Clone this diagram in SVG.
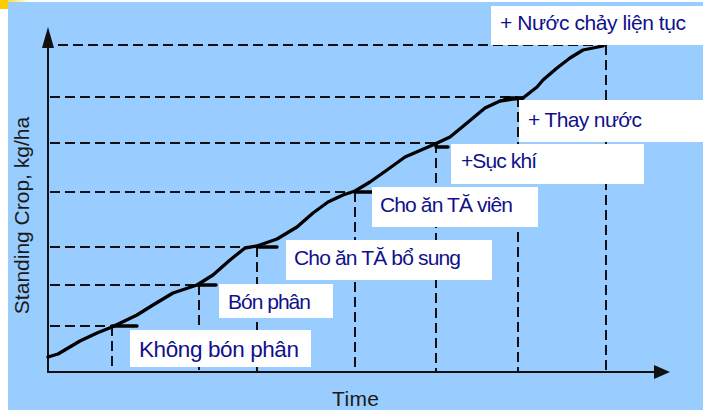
<svg xmlns="http://www.w3.org/2000/svg" width="703" height="410" viewBox="0 0 703 410">
  <defs>
    <linearGradient id="corner" x1="0" y1="0" x2="1" y2="0">
      <stop offset="0" stop-color="#FFCC00"/>
      <stop offset="1" stop-color="#FFFFFF"/>
    </linearGradient>
    <style>
      .dash { stroke: #111; stroke-width: 2; stroke-dasharray: 10 5; fill: none; }
      .axis { stroke: #111; stroke-width: 2; fill: none; }
      .box { fill: #FFFFFF; }
      .lbl { font-family: "Liberation Sans", Arial, sans-serif; font-size: 21px; fill: #10108C; }
      .ax { font-family: "Liberation Sans", Arial, sans-serif; font-size: 21px; fill: #1a1a1a; }
    </style>
  </defs>

  <!-- background -->
  <rect x="0" y="0" width="703" height="410" fill="#FFFFFF"/>
  <rect x="8" y="2" width="695" height="408" fill="#99CCFF"/>
  <rect x="0" y="0" width="30" height="2" fill="url(#corner)"/>
  <rect x="0" y="0" width="8" height="9" fill="#FFCC00"/>

  <!-- connectors: guide lines -->
  <g id="connectors">
    <path class="dash" d="M58 45H606 M50 97H518 M50 143H436 M50 192H355 M50 247H258 M50 285H199 M50 326H112"/>
    <path class="dash" d="M606 45V372 M518 97V372 M436 143V372 M355 192V372 M257 247V372 M199 285V372 M112 326V372"/>
  </g>

  <!-- axes -->
  <g id="axes">
    <path class="axis" d="M48 46V372H656"/>
    <polygon points="48,27 42,48 54,48" fill="#111"/>
    <polygon points="670,372 654,365 654,379" fill="#111"/>
  </g>

  <!-- growth curve -->
  <g id="curve" fill="none" stroke="#000" stroke-width="3.3" stroke-linejoin="round" stroke-linecap="round">
    <path d="M48 357 L58 354 L80 341 L97 333 L112 327 L137 315 L153 305 L173 293 L197 285 L213 275 L230 260 L245 248 L257 246 L277 239 L297 227 L313 213 L328 202 L343 195 L355 191 L370 182 L387 170 L405 157 L435 144 L450 137 L467 123 L485 108 L500 101 L513 99 L523 98 L537 87 L543 80 L557 68 L570 58 L583 50 L603 46"/>
    <path d="M112 326H137 M198 285H216 M257 247H277 M355 192H372 M436 144V147H448 M505 98H523"/>
  </g>

  <!-- label nodes -->
  <g id="n-nuoc-chay">
    <rect class="box" x="491" y="6" width="212" height="39"/>
    <text class="lbl" x="500" y="30" textLength="186" lengthAdjust="spacing">+ Nước chảy liện tục</text>
  </g>
  <g id="n-thay-nuoc">
    <rect class="box" x="519" y="100" width="184" height="42"/>
    <text class="lbl" x="528" y="127" textLength="114" lengthAdjust="spacing">+ Thay nước</text>
  </g>
  <g id="n-suc-khi">
    <rect class="box" x="451" y="144" width="193" height="40"/>
    <text class="lbl" x="461" y="168" textLength="76" lengthAdjust="spacing">+Sục khí</text>
  </g>
  <g id="n-ta-vien">
    <rect class="box" x="372" y="187" width="166" height="40"/>
    <text class="lbl" x="380" y="212" textLength="133" lengthAdjust="spacing">Cho ăn TĂ viên</text>
  </g>
  <g id="n-ta-bo-sung">
    <rect class="box" x="286" y="240" width="206" height="40"/>
    <text class="lbl" x="294" y="265" textLength="167" lengthAdjust="spacing">Cho ăn TĂ bổ sung</text>
  </g>
  <g id="n-bon-phan">
    <rect class="box" x="219" y="284" width="114" height="34"/>
    <text class="lbl" x="228" y="309" textLength="83" lengthAdjust="spacing">Bón phân</text>
  </g>
  <g id="n-khong-bon-phan">
    <rect class="box" x="130" y="330" width="181" height="37"/>
    <text class="lbl" x="139" y="357" style="font-size:22.5px" textLength="160" lengthAdjust="spacing">Không bón phân</text>
  </g>

  <!-- axis labels -->
  <text class="ax" x="332" y="406" textLength="47" lengthAdjust="spacing">Time</text>
  <text class="ax" transform="translate(29,215.5) rotate(-90)" text-anchor="middle">Standing Crop, kg/ha</text>
</svg>
